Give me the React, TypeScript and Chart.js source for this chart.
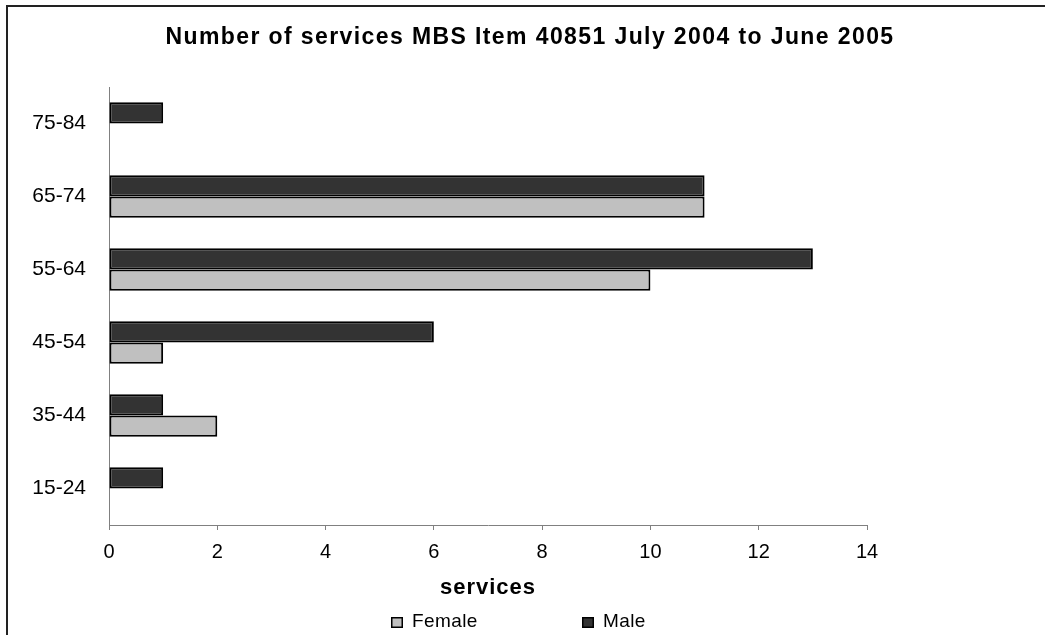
import React, { useEffect, useRef } from 'react';
import { Chart, registerables } from 'chart.js';

Chart.register(...registerables);

const categories = ['75-84', '65-74', '55-64', '45-54', '35-44', '15-24'];
const maleValues = [1, 11, 13, 6, 1, 1];
const femaleValues = [0, 11, 10, 1, 2, 0];
const legendNames = ['Female', 'Male'];
const legendColors = ['#c0c0c0', '#333333'];
const chartTitle = 'Number of services MBS Item 40851 July 2004 to June 2005';
const xAxisTitle = 'services';
const xMin = 0;
const xMax = 14;
const xStep = 2;

const FONT = '"Liberation Sans", Arial, sans-serif';

const decorPlugin = {
  id: 'decor',
  beforeDraw(chart: any) {
    const ctx = chart.ctx;
    ctx.save();
    ctx.fillStyle = '#ffffff';
    ctx.fillRect(0, 0, chart.width, chart.height);
    ctx.strokeStyle = '#222222';
    ctx.lineWidth = 2;
    ctx.strokeRect(7, 6, chart.width + 50, chart.height + 50);
    ctx.restore();
  },
  afterDraw(chart: any) {
    const ctx = chart.ctx;
    const area = chart.chartArea;
    ctx.save();
    ctx.fillStyle = '#000000';
    ctx.textBaseline = 'alphabetic';
    ctx.textAlign = 'center';
    ctx.font = `bold 23px ${FONT}`;
    (ctx as any).letterSpacing = '1.4px';
    ctx.fillText(chartTitle, 530, 44);
    ctx.font = `bold 22px ${FONT}`;
    (ctx as any).letterSpacing = '1px';
    ctx.fillText(xAxisTitle, (area.left + area.right) / 2, 594);
    // legend
    ctx.font = `19px ${FONT}`;
    (ctx as any).letterSpacing = '0.4px';
    ctx.textAlign = 'left';
    const starts = [391, 582];
    legendNames.forEach((name, i) => {
      const x = starts[i];
      ctx.fillStyle = legendColors[i];
      ctx.fillRect(x, 617, 12, 11);
      ctx.strokeStyle = '#000000';
      ctx.lineWidth = 1.5;
      ctx.strokeRect(x + 0.75, 617.75, 10.5, 9.5);
      ctx.fillStyle = '#000000';
      ctx.fillText(name, x + 21, 627);
    });
    ctx.restore();
  },
};

export default function App() {
  const canvasRef = useRef<HTMLCanvasElement | null>(null);

  useEffect(() => {
    document.body.style.margin = '0';
    const canvas = canvasRef.current;
    if (!canvas) return;
    const chart = new Chart(canvas, {
      type: 'bar',
      data: {
        labels: categories,
        datasets: [
          {
            label: 'Male',
            data: maleValues,
            backgroundColor: '#333333',
            borderColor: '#000000',
            borderWidth: 2,
            borderSkipped: false,
            categoryPercentage: 0.585,
            barPercentage: 1,
          },
          {
            label: 'Female',
            data: femaleValues,
            backgroundColor: '#c0c0c0',
            borderColor: '#000000',
            borderWidth: 2,
            borderSkipped: false,
            categoryPercentage: 0.585,
            barPercentage: 1,
          },
        ],
      },
      plugins: [decorPlugin],
      options: {
        indexAxis: 'y',
        animation: false,
        responsive: false,
        devicePixelRatio: 1,
        layout: { padding: { top: 87, right: 178, bottom: 0, left: 0 } },
        plugins: {
          legend: { display: false },
          title: { display: false },
          tooltip: { enabled: false },
        },
        scales: {
          y: {
            type: 'category',
            grid: { display: false },
            border: { display: true, color: '#808080', width: 1 },
            ticks: { color: '#000000', font: { family: FONT, size: 21 }, padding: 15 },
            afterFit: (scale: any) => {
              scale.width = 109;
            },
          },
          x: {
            type: 'linear',
            min: xMin,
            max: xMax,
            grid: { display: true, drawOnChartArea: false, drawTicks: true, tickLength: 5, color: '#808080' },
            border: { display: true, color: '#808080', width: 1 },
            ticks: { stepSize: xStep, color: '#000000', font: { family: FONT, size: 20 }, padding: 10 },
            afterFit: (scale: any) => {
              scale.height = 110;
            },
          },
        },
      },
    } as any);
    return () => chart.destroy();
  }, []);

  return (
    <div style={{ position: 'relative', width: 1045, height: 635, overflow: 'hidden' }}>
      <canvas ref={canvasRef} width={1045} height={635} />
    </div>
  );
}
